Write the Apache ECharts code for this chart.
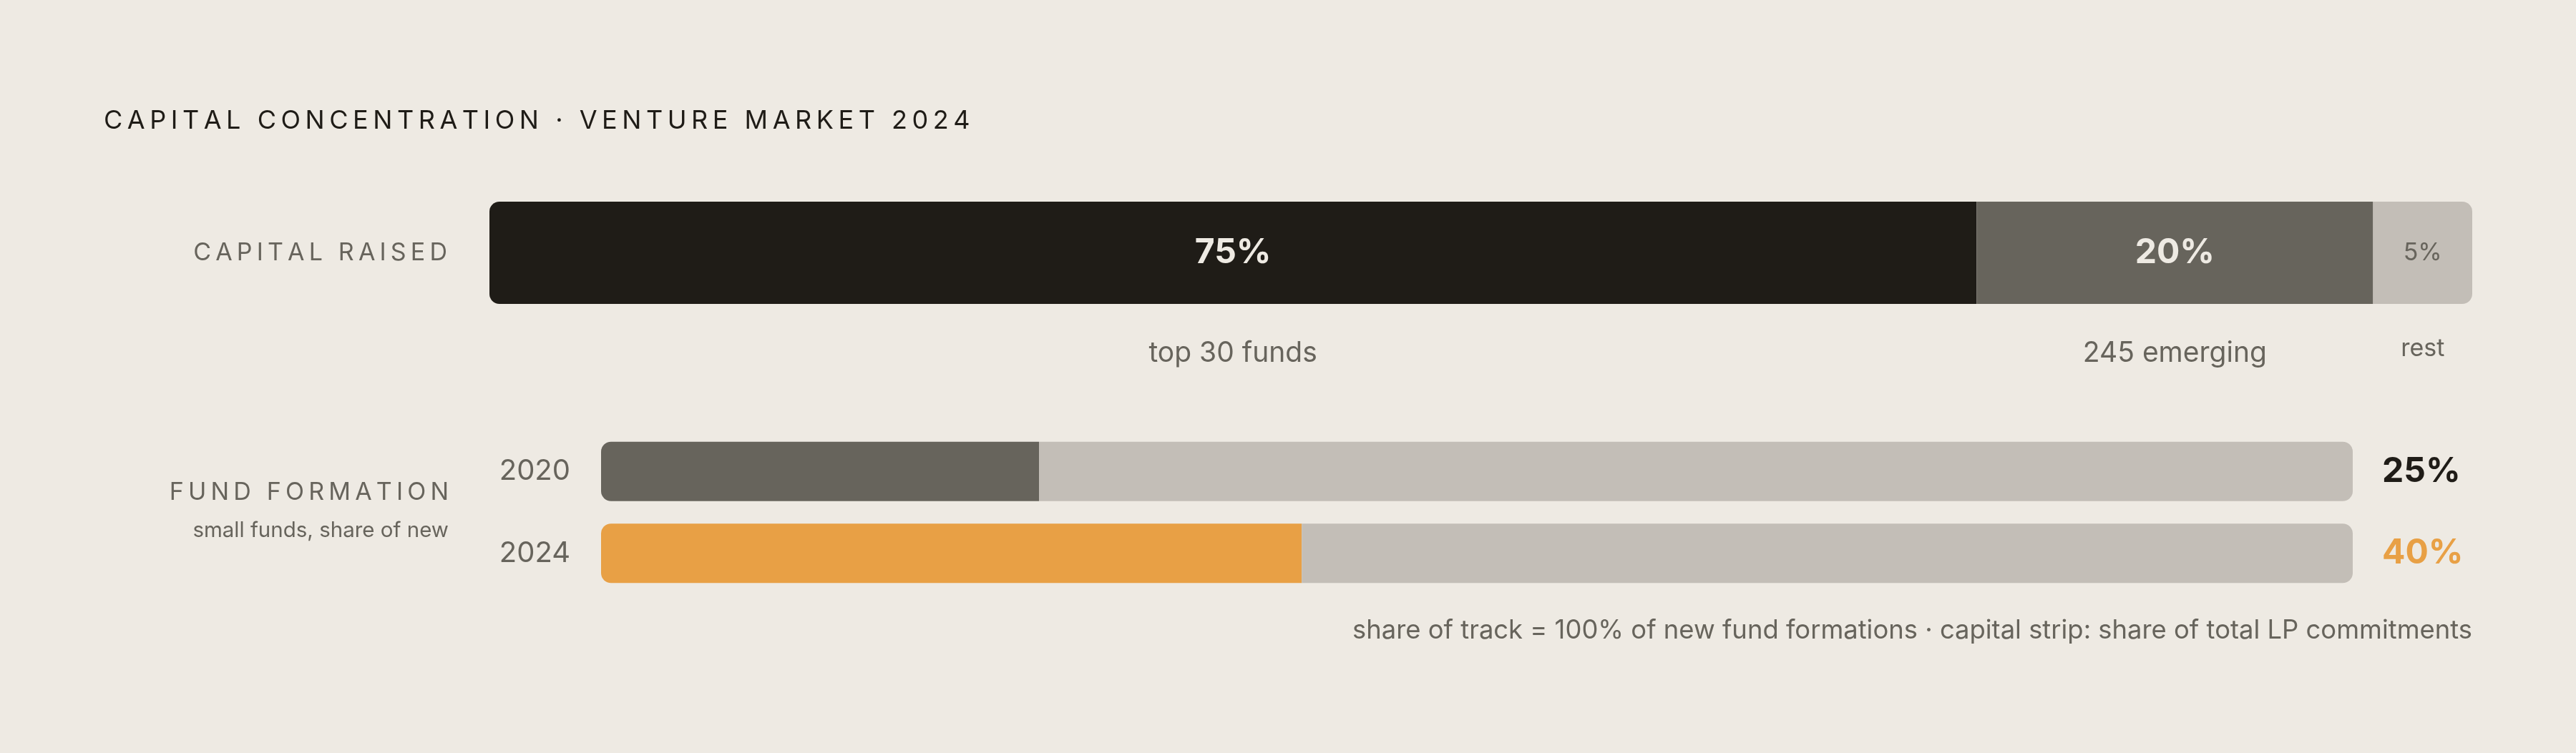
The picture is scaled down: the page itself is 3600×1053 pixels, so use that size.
<!DOCTYPE html>
<html>
<head>
<meta charset="utf-8">
<script src="https://cdn.jsdelivr.net/npm/echarts@6/dist/echarts.min.js"></script>
<style>
    html, body { margin: 0; padding: 0; background: #EEEAE3; }
    #chart { width: 3600px; height: 1053px; }
</style>
</head>
<body>
<div id="chart"></div>
<script>
// 数据
var capitalRows = ['CAPITAL RAISED'];
var capitalNames = ['top 30 funds', '245 emerging', 'rest'];
var capitalShares = [75, 20, 5];
var formationYears = ['2020', '2024'];
var smallFundShares = [25, 40];

var FONT = 'Inter, "Noto Sans", sans-serif';
var INK = '#1F1C17', MID = '#67645C', LIGHT = '#C3BEB7', ORANGE = '#E8A045', BG = '#EEEAE3';

// 字母间距：用细空格模拟
var spaced = function (s) { return s.split('').join('\u2009'); };

var capColors = [INK, MID, LIGHT];
var capLabelColor = [BG, BG, MID];
var capLabelSize = [48, 48, 34];
var capLabelWeight = ['bold', 'bold', 'normal'];
var R = 14;

var series = [];
capitalShares.forEach(function (v, i) {
    var radius = i === 0 ? [R, 0, 0, R] : (i === capitalShares.length - 1 ? [0, R, R, 0] : 0);
    series.push({
        type: 'bar', stack: 'cap', xAxisIndex: 0, yAxisIndex: 0,
        barWidth: '100%', barGap: '-100%',
        data: [v],
        itemStyle: { color: capColors[i], borderRadius: radius },
        label: {
            show: true, position: 'inside', formatter: '{c}%',
            color: capLabelColor[i], fontSize: capLabelSize[i],
            fontWeight: capLabelWeight[i], fontFamily: FONT
        },
        silent: true
    });
});
// 下方说明文字
capitalShares.forEach(function (v, i) {
    var last = i === capitalShares.length - 1;
    series.push({
        type: 'bar', stack: 'capName', xAxisIndex: 0, yAxisIndex: 0,
        barWidth: '100%', barGap: '-100%',
        data: [v],
        itemStyle: { color: 'rgba(0,0,0,0)' },
        label: {
            show: true, position: 'bottom', distance: last ? 46 : 50,
            formatter: capitalNames[i],
            color: MID, fontSize: last ? 34 : 39, fontFamily: FONT
        },
        silent: true
    });
});

// 基金成立占比
series.push({
    type: 'bar', stack: 'form', xAxisIndex: 1, yAxisIndex: 1,
    barWidth: 83,
    data: smallFundShares.map(function (v, i) {
        return { value: v, itemStyle: { color: i === 0 ? MID : ORANGE } };
    }),
    itemStyle: { borderRadius: [R, 0, 0, R] },
    silent: true
});
series.push({
    type: 'bar', stack: 'form', xAxisIndex: 1, yAxisIndex: 1,
    barWidth: 83,
    data: smallFundShares.map(function (v, i) {
        return { value: 100 - v, label: { color: i === 0 ? INK : ORANGE } };
    }),
    itemStyle: { color: LIGHT, borderRadius: [0, R, R, 0] },
    label: {
        show: true, position: 'right', distance: 41,
        formatter: function (p) { return smallFundShares[p.dataIndex] + '%'; },
        fontSize: 48, fontWeight: 'bold', fontFamily: FONT
    },
    silent: true
});

var chart = echarts.init(document.getElementById('chart'));
chart.setOption({
    backgroundColor: BG,
    animation: false,
    grid: [
        { left: 684, right: 145, top: 282, height: 143 },
        { left: 840, right: 312, top: 602, height: 229 }
    ],
    xAxis: [
        { gridIndex: 0, type: 'value', min: 0, max: 100, show: false },
        { gridIndex: 1, type: 'value', min: 0, max: 100, show: false }
    ],
    yAxis: [
        {
            gridIndex: 0, type: 'category', data: capitalRows,
            axisLine: { show: false }, axisTick: { show: false },
            axisLabel: {
                margin: 59, color: MID, fontSize: 34, fontFamily: FONT,
                formatter: function (v) { return spaced(v); }
            }
        },
        {
            gridIndex: 1, type: 'category', data: formationYears, inverse: true,
            axisLine: { show: false }, axisTick: { show: false },
            axisLabel: { margin: 43, color: MID, fontSize: 40, fontFamily: FONT }
        }
    ],
    graphic: [
        {
            type: 'text', left: 145, top: 151,
            style: { text: spaced('CAPITAL CONCENTRATION · VENTURE MARKET 2024'), fill: INK, fontSize: 36, fontFamily: FONT }
        },
        {
            type: 'text', x: 627, y: 689,
            style: { text: spaced('FUND FORMATION'), fill: MID, fontSize: 34, fontFamily: FONT, textAlign: 'right', textVerticalAlign: 'middle' }
        },
        {
            type: 'text', x: 627, y: 742,
            style: { text: 'small funds, share of new', fill: MID, fontSize: 29.5, fontFamily: FONT, textAlign: 'right', textVerticalAlign: 'middle' }
        },
        {
            type: 'text', x: 3455, y: 882,
            style: { text: 'share of track = 100% of new fund formations · capital strip: share of total LP commitments', fill: MID, fontSize: 36.4, fontFamily: FONT, textAlign: 'right', textVerticalAlign: 'middle' }
        }
    ],
    series: series
});
</script>
</body>
</html>
